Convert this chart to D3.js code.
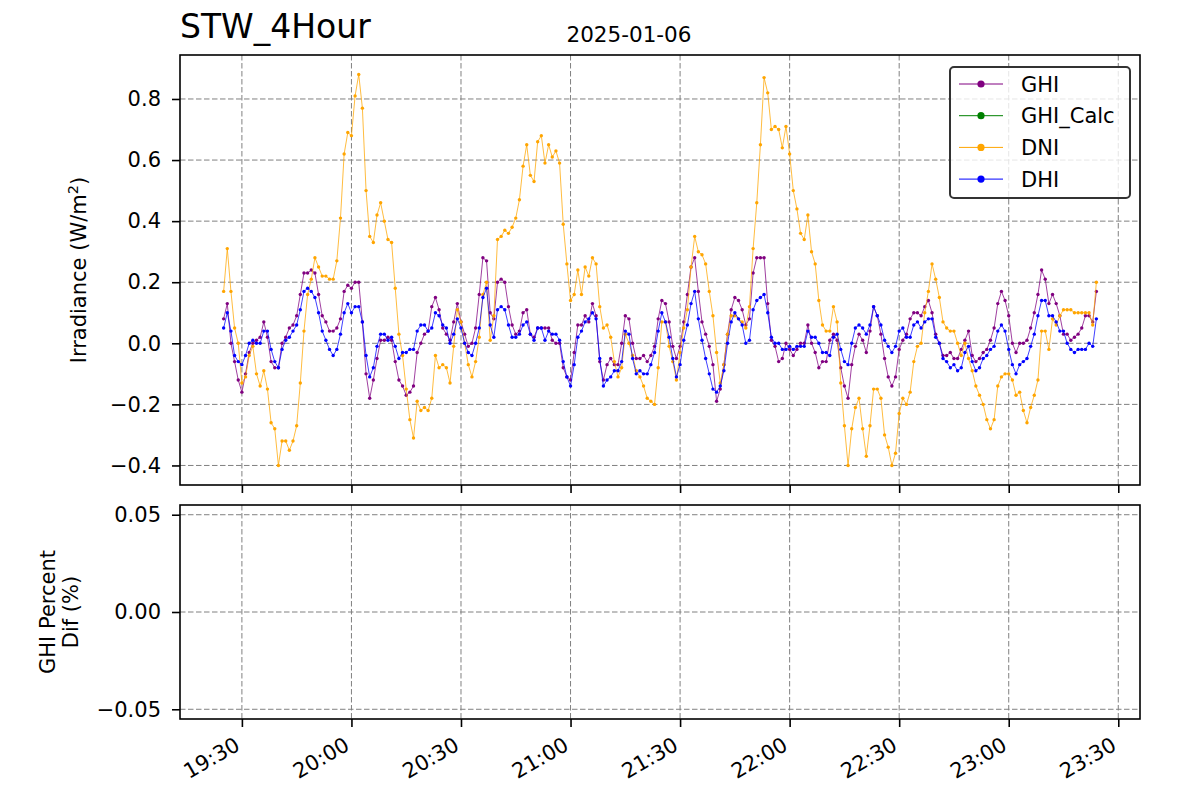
<!DOCTYPE html>
<html><head><meta charset="utf-8">
<script src="https://cdn.jsdelivr.net/npm/d3@7"></script>
<style>
body{margin:0;background:#fff}
svg{display:block}
text{font-family:"DejaVu Sans",sans-serif;fill:#000}
</style>
</head><body>
<svg id="chart" width="1200" height="800"></svg>
<script>
// ---------------- DATA ----------------
const chartTitle = "STW_4Hour";
const chartDate = "2025-01-06";
const startTime = "2025-01-06 19:25"; // one sample per minute
const seriesNames = ["GHI", "GHI_Calc", "DNI", "DHI"];
const seriesColors = ["#800080", "#008000", "#ffa500", "#0000ff"];

const ghi = [
  0.08,0.13,0.00,-0.06,-0.12,-0.16,-0.10,-0.03,0.00,0.01, 0.02,0.07,0.02,-0.06,-0.08,-0.08,0.00,0.02,0.05,0.06, 0.09,0.16,0.23,0.23,0.24,0.23,0.16,0.09,0.07,0.04,
  0.04,0.05,0.08,0.17,0.19,0.18,0.20,0.20,0.07,-0.10, -0.18,-0.12,-0.05,0.01,0.01,0.02,0.01,-0.06,-0.12,-0.14, -0.17,-0.16,-0.14,-0.03,0.00,0.03,0.04,0.12,0.15,0.11,
  0.05,0.03,0.01,0.07,0.13,0.07,0.03,-0.01,0.00,0.05, 0.16,0.28,0.27,0.10,0.08,0.20,0.21,0.20,0.12,0.06, 0.03,0.04,0.10,0.11,0.03,0.02,0.05,0.05,0.05,0.05,
  0.01,0.00,0.00,-0.08,-0.11,-0.12,-0.03,0.06,0.06,0.09, 0.07,0.13,0.09,-0.06,-0.12,-0.07,-0.05,-0.07,-0.07,0.00, 0.09,0.08,0.00,-0.05,-0.05,-0.04,-0.06,-0.04,-0.01,0.08,
  0.14,0.13,0.07,-0.01,-0.05,-0.01,0.07,0.16,0.25,0.28, 0.17,0.07,0.03,-0.01,-0.07,-0.19,-0.15,-0.07,0.03,0.11, 0.15,0.14,0.11,0.06,0.08,0.23,0.28,0.28,0.28,0.13,
  0.01,-0.01,-0.06,-0.05,0.00,-0.02,-0.04,-0.02,0.00,0.00, 0.06,0.00,-0.03,-0.08,-0.06,-0.06,0.01,0.03,0.01,-0.08, -0.14,-0.18,-0.07,-0.01,0.03,0.01,-0.03,0.04,0.12,0.09,
  0.03,-0.05,-0.11,-0.14,-0.11,-0.02,0.01,0.03,0.08,0.10, 0.10,0.09,0.12,0.14,0.10,0.03,0.00,-0.04,-0.04,-0.03, -0.05,-0.05,-0.02,0.01,0.04,-0.04,-0.06,-0.05,-0.03,-0.02,
  0.01,0.05,0.13,0.17,0.14,0.09,0.00,-0.03,0.00,0.00, 0.01,0.05,0.10,0.16,0.24,0.21,0.13,0.16,0.13,0.09, 0.03,0.03,0.01,0.02,0.03,0.05,0.09,0.09,0.07,0.17
];
const ghiCalc = []; // no values recorded
const dni = [
  0.17,0.31,0.17,0.05,0.00,-0.13,-0.11,-0.04,-0.01,-0.10, -0.14,-0.09,-0.15,-0.26,-0.28,-0.40,-0.32,-0.32,-0.35,-0.32, -0.27,-0.13,0.04,0.16,0.21,0.28,0.25,0.22,0.22,0.21,
  0.21,0.27,0.41,0.62,0.69,0.68,0.81,0.88,0.77,0.50, 0.35,0.33,0.42,0.46,0.40,0.34,0.33,0.18,0.03,-0.04, -0.15,-0.25,-0.31,-0.19,-0.22,-0.21,-0.22,-0.18,-0.04,-0.08,
  -0.07,-0.08,-0.13,-0.01,0.11,0.07,0.00,-0.07,-0.11,-0.06, 0.02,0.16,0.20,0.01,0.09,0.34,0.35,0.37,0.36,0.38, 0.41,0.47,0.58,0.65,0.55,0.53,0.66,0.68,0.59,0.65,
  0.61,0.63,0.59,0.39,0.26,0.14,0.16,0.24,0.16,0.25, 0.22,0.28,0.26,0.12,0.05,0.06,0.02,-0.06,-0.11,-0.08, 0.03,0.00,-0.04,-0.09,-0.11,-0.14,-0.18,-0.19,-0.20,-0.08,
  0.07,0.07,-0.01,-0.06,-0.12,-0.03,0.05,0.11,0.25,0.35, 0.30,0.29,0.26,0.17,0.09,-0.03,-0.13,-0.07,0.03,0.09, 0.09,0.08,0.07,0.05,0.12,0.31,0.46,0.65,0.87,0.82,
  0.70,0.71,0.70,0.64,0.71,0.62,0.50,0.44,0.36,0.34, 0.42,0.30,0.26,0.14,0.06,0.04,0.04,0.12,0.07,-0.13, -0.27,-0.40,-0.28,-0.21,-0.18,-0.28,-0.37,-0.27,-0.15,-0.15,
  -0.18,-0.30,-0.34,-0.40,-0.36,-0.23,-0.18,-0.20,-0.16,-0.06, -0.01,0.00,0.10,0.17,0.26,0.21,0.15,0.07,0.05,0.04, 0.04,0.00,-0.04,0.00,-0.05,-0.09,-0.14,-0.17,-0.20,-0.25,
  -0.28,-0.25,-0.14,-0.11,-0.10,-0.10,-0.12,-0.17,-0.16,-0.22, -0.26,-0.21,-0.17,-0.12,0.04,0.04,-0.02,0.08,0.06,0.09, 0.11,0.11,0.11,0.10,0.10,0.10,0.10,0.10,0.06,0.20
];
const dhi = [
  0.05,0.10,0.04,-0.04,-0.06,-0.07,-0.04,0.00,0.01,0.00, 0.00,0.04,0.04,-0.02,-0.06,-0.08,-0.02,0.01,0.02,0.04, 0.06,0.11,0.17,0.18,0.17,0.15,0.10,0.04,0.01,-0.02,
  -0.04,-0.02,0.03,0.10,0.13,0.10,0.12,0.12,0.07,-0.04, -0.11,-0.08,-0.01,0.03,0.03,0.01,0.02,-0.01,-0.05,-0.03, -0.03,-0.02,-0.02,0.04,0.06,0.06,0.04,0.05,0.10,0.09,
  0.06,0.05,0.00,0.03,0.08,0.05,0.00,-0.03,-0.04,0.00, 0.05,0.15,0.18,0.06,0.02,0.11,0.12,0.11,0.06,0.02, 0.02,0.03,0.06,0.07,0.03,0.01,0.05,0.05,0.01,0.04,
  0.03,0.03,0.01,-0.06,-0.11,-0.14,-0.07,0.02,0.04,0.07, 0.08,0.10,0.08,-0.05,-0.14,-0.12,-0.11,-0.09,-0.09,-0.06, 0.04,0.03,-0.05,-0.10,-0.09,-0.10,-0.10,-0.07,-0.03,0.04,
  0.10,0.07,0.02,-0.05,-0.11,-0.07,0.01,0.06,0.13,0.17, 0.08,0.01,-0.05,-0.10,-0.15,-0.16,-0.14,-0.09,0.00,0.07, 0.10,0.08,0.06,0.00,0.01,0.11,0.14,0.15,0.16,0.10,
  0.02,0.00,0.00,-0.02,-0.02,-0.01,-0.02,-0.01,-0.01,-0.01, 0.04,0.02,0.02,0.00,-0.03,-0.03,-0.04,0.02,0.03,-0.02, -0.06,-0.07,0.00,0.05,0.06,0.05,0.03,0.06,0.12,0.09,
  0.06,0.01,-0.01,-0.03,-0.01,0.04,0.05,0.02,0.02,0.06, 0.07,0.05,0.07,0.08,0.08,0.02,0.00,-0.05,-0.06,-0.08, -0.07,-0.09,-0.08,-0.03,-0.01,-0.06,-0.09,-0.08,-0.05,-0.04,
  -0.02,-0.01,0.04,0.06,0.04,-0.02,-0.07,-0.10,-0.07,-0.06, -0.05,-0.01,0.03,0.09,0.14,0.14,0.09,0.09,0.07,0.04, 0.04,0.00,-0.02,-0.03,-0.02,-0.02,-0.02,0.00,-0.01,0.08
];
const ghiPercentDif = []; // no values recorded
const yTicksTop = [-0.4, -0.2, 0.0, 0.2, 0.4, 0.6, 0.8];
const yTicksBottom = [-0.05, 0.00, 0.05];
const yDomainBottom = [-0.055, 0.055];
const xTickLabels = ["19:30","20:00","20:30","21:00","21:30","22:00","22:30","23:00","23:30"];

// ---------------- LAYOUT ----------------
const svg = d3.select("#chart");
const L = 180, R = 1140;
const topT = 55, topB = 485, botT = 505, botB = 719;
const FS = 21;

const parse = d3.timeParse("%Y-%m-%d %H:%M");
const t0 = parse(startTime);
const times = ghi.map((_, i) => d3.timeMinute.offset(t0, i));
const span = times[times.length - 1] - times[0];
const x = d3.scaleTime()
  .domain([new Date(+times[0] - span * 0.05), new Date(+times[times.length - 1] + span * 0.05)])
  .range([L, R]);
const xTicks = xTickLabels.map(s => parse(chartDate + " " + s));

const allVals = ghi.concat(dni, dhi, ghiCalc);
const vmin = d3.min(allVals), vmax = d3.max(allVals), vr = vmax - vmin;
const y = d3.scaleLinear().domain([vmin - 0.05 * vr, vmax + 0.05 * vr]).range([topB, topT]);
const y2 = d3.scaleLinear().domain(yDomainBottom).range([botB, botT]);

const gridColor = "#808080", gridDash = "5.5,2.5";

// grids
function grid(g, yScale, yTicks, top, bottom) {
  g.selectAll(".vg").data(xTicks).join("line")
    .attr("x1", d => x(d)).attr("x2", d => x(d)).attr("y1", top).attr("y2", bottom)
    .attr("stroke", gridColor).attr("stroke-width", 1).attr("stroke-dasharray", gridDash);
  g.selectAll(".hg").data(yTicks).join("line")
    .attr("x1", L).attr("x2", R).attr("y1", d => yScale(d)).attr("y2", d => yScale(d))
    .attr("stroke", gridColor).attr("stroke-width", 1).attr("stroke-dasharray", gridDash);
}
grid(svg.append("g"), y, yTicksTop, topT, topB);
grid(svg.append("g"), y2, yTicksBottom, botT, botB);

// series
svg.append("clipPath").attr("id", "clipTop").append("rect")
  .attr("x", L).attr("y", topT).attr("width", R - L).attr("height", topB - topT);
const seriesData = [ghi, ghiCalc, dni, dhi];
const plot = svg.append("g").attr("clip-path", "url(#clipTop)");
const line = d3.line().defined(d => d.v != null && !isNaN(d.v)).x(d => x(d.t)).y(d => y(d.v));
seriesData.forEach((arr, k) => {
  const pts = arr.map((v, i) => ({t: times[i], v}));
  const g = plot.append("g");
  g.append("path").datum(pts).attr("d", line).attr("fill", "none")
    .attr("stroke", seriesColors[k]).attr("stroke-width", 0.75);
  g.selectAll("circle").data(pts.filter(d => d.v != null)).join("circle")
    .attr("cx", d => x(d.t)).attr("cy", d => y(d.v)).attr("r", 1.7)
    .attr("fill", seriesColors[k]);
});
// bottom panel series (empty)
const line2 = d3.line().x(d => x(d.t)).y(d => y2(d.v));
svg.append("path").datum(ghiPercentDif.map((v, i) => ({t: times[i], v})))
  .attr("d", line2).attr("fill", "none").attr("stroke", seriesColors[0]);

// axes
function styleAxis(g) {
  g.select(".domain").remove();
  g.selectAll(".tick line").attr("stroke", "#000").attr("stroke-width", 1.6);
  g.selectAll(".tick text").attr("font-size", FS).attr("font-family", "DejaVu Sans").attr("fill", "#000");
}
svg.append("g").attr("transform", `translate(${L},0)`)
  .call(d3.axisLeft(y).tickValues(yTicksTop).tickFormat(d3.format(".1f")).tickSize(8).tickPadding(11))
  .call(styleAxis);
svg.append("g").attr("transform", `translate(${L},0)`)
  .call(d3.axisLeft(y2).tickValues(yTicksBottom).tickFormat(d3.format(".2f")).tickSize(8).tickPadding(11))
  .call(styleAxis);
svg.append("g").attr("transform", `translate(0,${topB})`)
  .call(d3.axisBottom(x).tickValues(xTicks).tickFormat("").tickSize(8))
  .call(styleAxis);
const xb = svg.append("g").attr("transform", `translate(0,${botB})`)
  .call(d3.axisBottom(x).tickValues(xTicks).tickFormat(d3.timeFormat("%H:%M")).tickSize(8))
  .call(styleAxis);
xb.selectAll(".tick text")
  .attr("x", 0).attr("y", 0).attr("dy", 0)
  .attr("text-anchor", "end")
  .attr("transform", "translate(-1,30) rotate(-30)");

// spines
[[topT, topB], [botT, botB]].forEach(([t, b]) => {
  svg.append("rect").attr("x", L).attr("y", t).attr("width", R - L).attr("height", b - t)
    .attr("fill", "none").attr("stroke", "#000").attr("stroke-width", 1.6);
});

// titles
svg.append("text").attr("x", L).attr("y", 38).attr("font-size", 33).text(chartTitle);
svg.append("text").attr("x", 629).attr("y", 42).attr("font-size", 21.5).attr("text-anchor", "middle").text(chartDate);

// y labels
const yl = svg.append("text").attr("transform", `translate(86,${(topT + topB) / 2}) rotate(-90)`)
  .attr("text-anchor", "middle").attr("font-size", FS);
yl.append("tspan").text("Irradiance (W/m");
yl.append("tspan").attr("font-size", FS * 0.7).attr("dy", -8).text("2");
yl.append("tspan").attr("dy", 8).text(")");
const yl2 = svg.append("text").attr("transform", `translate(0,${(botT + botB) / 2}) rotate(-90)`)
  .attr("text-anchor", "middle").attr("font-size", FS);
yl2.append("tspan").attr("x", 0).attr("y", 55).text("GHI Percent");
yl2.append("tspan").attr("x", 0).attr("y", 78).text("Dif (%)");

// legend
const lg = svg.append("g").attr("transform", "translate(950,67)");
lg.append("rect").attr("width", 180).attr("height", 131).attr("rx", 4)
  .attr("fill", "#fff").attr("fill-opacity", 0.8).attr("stroke", "#333").attr("stroke-width", 2);
seriesNames.forEach((name, i) => {
  const yy = 17 + i * 31.7;
  lg.append("line").attr("x1", 9).attr("x2", 53).attr("y1", yy).attr("y2", yy)
    .attr("stroke", seriesColors[i]).attr("stroke-width", 1);
  lg.append("circle").attr("cx", 31).attr("cy", yy).attr("r", 3.6).attr("fill", seriesColors[i]);
  lg.append("text").attr("x", 71).attr("y", yy + 7.5).attr("font-size", FS).text(name);
});
</script>
</body></html>
